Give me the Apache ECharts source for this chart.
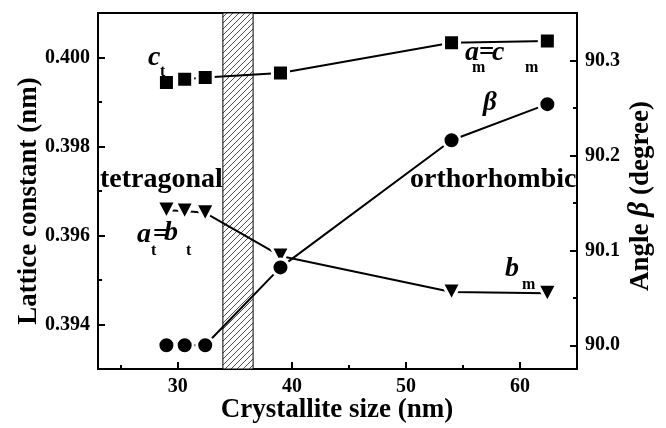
<!DOCTYPE html>
<html>
<head>
<meta charset="utf-8">
<script src="https://cdn.jsdelivr.net/npm/echarts@6/dist/echarts.min.js"></script>
<style>
  html, body { margin: 0; padding: 0; background: #fff; }
  #chart { width: 666px; height: 428px; }
</style>
</head>
<body>
<div id="chart"></div>
<script>
// Crystallite size (nm) of each sample
const sizes = [29.0, 30.6, 32.4, 39.0, 54.0, 62.4];
// Lattice constants (nm): c_t -> a_m = c_m
const latticeC = [0.39944, 0.39951, 0.39955, 0.39965, 0.40033, 0.40037];
// Lattice constants (nm): a_t = b_t -> b_m
const latticeB = [0.39657, 0.39655, 0.39651, 0.39554, 0.39473, 0.39470];
// Monoclinic angle beta (degree)
const angleBeta = [90.000, 90.000, 90.000, 90.082, 90.216, 90.254];
// Phase boundary band (nm)
const boundary = [33.95, 36.6];

// Tick values
const xMajor = [30, 40, 50, 60];
const xMinor = [25, 35, 45, 55];
const leftMajor = [0.394, 0.396, 0.398, 0.400];
const leftMinor = [0.395, 0.397, 0.399];
const rightMajor = [90.0, 90.1, 90.2, 90.3];
const rightMinor = [90.05, 90.15, 90.25];

const FONT = '"Liberation Serif", "Times New Roman", serif';

// diagonal hatch pattern for the transition band
function hatchCanvas() {
  const s = 6;
  const c = document.createElement('canvas');
  c.width = s; c.height = s;
  const g = c.getContext('2d');
  g.fillStyle = '#fff';
  g.fillRect(0, 0, s, s);
  g.strokeStyle = '#222';
  g.lineWidth = 0.8;
  g.beginPath();
  g.moveTo(0, s); g.lineTo(s, 0);
  g.moveTo(-1, 1); g.lineTo(1, -1);
  g.moveTo(s - 1, s + 1); g.lineTo(s + 1, s - 1);
  g.stroke();
  return c;
}

const chart = echarts.init(document.getElementById('chart'), null, { renderer: 'canvas' });

const tickLabel = { color: '#000', fontFamily: FONT, fontWeight: 'bold', fontSize: 20 };
const axisLineStyle = { show: true, lineStyle: { color: '#000', width: 2 } };

function zip(xs, ys) { return xs.map((x, i) => [x, ys[i]]); }

const markerStyle = { color: '#000', borderColor: '#fff', borderWidth: 3 };

const option = {
  animation: false,
  backgroundColor: '#fff',
  grid: {
    left: 98, right: 89, top: 13, bottom: 59,
    show: true, borderColor: '#000', borderWidth: 2, backgroundColor: 'transparent'
  },
  xAxis: [
    {
      type: 'value', position: 'bottom', min: 23, max: 65,
      axisLine: axisLineStyle,
      axisTick: { show: true, inside: true, length: 7, lineStyle: { color: '#000', width: 2 }, customValues: xMajor },
      axisLabel: Object.assign({ margin: 8, customValues: xMajor }, tickLabel),
      splitLine: { show: false }
    },
    {
      type: 'value', position: 'bottom', min: 23, max: 65,
      axisLine: { show: false },
      axisTick: { show: true, inside: true, length: 4, lineStyle: { color: '#000', width: 2 }, customValues: xMinor },
      axisLabel: { show: false },
      splitLine: { show: false }
    }
  ],
  yAxis: [
    {
      type: 'value', position: 'left', min: 0.393, max: 0.401,
      axisLine: axisLineStyle,
      axisTick: { show: true, inside: true, length: 7, lineStyle: { color: '#000', width: 2 }, customValues: leftMajor },
      axisLabel: Object.assign({ margin: 8, customValues: leftMajor, formatter: v => v.toFixed(3) }, tickLabel),
      splitLine: { show: false }
    },
    {
      type: 'value', position: 'left', min: 0.393, max: 0.401,
      axisLine: { show: false },
      axisTick: { show: true, inside: true, length: 4, lineStyle: { color: '#000', width: 2 }, customValues: leftMinor },
      axisLabel: { show: false },
      splitLine: { show: false }
    },
    {
      type: 'value', position: 'right', min: 89.975, max: 90.35,
      axisLine: axisLineStyle,
      axisTick: { show: true, inside: true, length: 7, lineStyle: { color: '#000', width: 2 }, customValues: rightMajor },
      axisLabel: Object.assign({ margin: 8, customValues: rightMajor, formatter: v => v.toFixed(1) }, tickLabel),
      splitLine: { show: false }
    },
    {
      type: 'value', position: 'right', min: 89.975, max: 90.35,
      axisLine: { show: false },
      axisTick: { show: true, inside: true, length: 4, lineStyle: { color: '#000', width: 2 }, customValues: rightMinor },
      axisLabel: { show: false },
      splitLine: { show: false }
    }
  ],
  series: [
    {
      name: 'band', type: 'line', data: [], xAxisIndex: 0, yAxisIndex: 0,
      markArea: {
        silent: true,
        itemStyle: { color: { image: hatchCanvas(), repeat: 'repeat' }, borderColor: '#000', borderWidth: 1 },
        data: [[{ xAxis: boundary[0] }, { xAxis: boundary[1] }]]
      },
      z: 1
    },
    {
      name: 'c', type: 'line', xAxisIndex: 0, yAxisIndex: 0,
      data: zip(sizes, latticeC),
      symbol: 'rect', symbolSize: 16,
      lineStyle: { color: '#000', width: 2 },
      itemStyle: markerStyle, z: 3
    },
    {
      name: 'b', type: 'line', xAxisIndex: 0, yAxisIndex: 0,
      data: zip(sizes, latticeB),
      symbol: 'triangle', symbolRotate: 180, symbolSize: [19, 18],
      lineStyle: { color: '#000', width: 2 },
      itemStyle: markerStyle, z: 3
    },
    {
      name: 'beta', type: 'line', xAxisIndex: 0, yAxisIndex: 2,
      data: zip(sizes, angleBeta),
      symbol: 'circle', symbolSize: 17,
      lineStyle: { color: '#000', width: 2 },
      itemStyle: markerStyle, z: 3
    }
  ],
  graphic: []
};

// Annotation and axis title text
function txt(x, y, text, size, italic) {
  return {
    type: 'text', x: x, y: y, z: 10,
    style: {
      text: text, fill: '#000', fontFamily: FONT, fontWeight: 'bold',
      fontStyle: italic ? 'italic' : 'normal', fontSize: size,
      textAlign: 'left', textVerticalAlign: 'middle'
    }
  };
}
function title(x, y, rich, text) {
  return {
    type: 'text', x: x, y: y, rotation: Math.PI / 2, z: 10,
    style: {
      text: text, fill: '#000', fontFamily: FONT, fontWeight: 'bold', fontSize: 27,
      align: 'center', verticalAlign: 'middle', rich: rich
    }
  };
}
option.graphic = [
  // axis titles
  {
    type: 'text', x: 337, y: 410, z: 10,
    style: { text: 'Crystallite size (nm)', fill: '#000', fontFamily: FONT, fontWeight: 'bold',
             fontSize: 27, align: 'center', verticalAlign: 'middle' }
  },
  title(29, 201, {}, 'Lattice constant (nm)'),
  title(641, 196, {
    b: { fontFamily: FONT, fontWeight: 'bold', fontStyle: 'italic', fontSize: 29, fill: '#000' }
  }, 'Angle {b|β} (degree)'),
  // curve labels
  txt(148, 58, 'c', 28, true), txt(160, 72, 't', 16, false),
  txt(465, 53, 'a', 28, true), txt(472, 68, 'm', 16, false),
  txt(479, 53, '=', 27, false),
  txt(492, 53, 'c', 28, true), txt(525, 68, 'm', 16, false),
  txt(483, 103, 'β', 27, true),
  txt(100, 180, 'tetragonal', 28, false),
  txt(410, 180, 'orthorhombic', 28, false),
  txt(137, 235, 'a', 28, true), txt(151, 251, 't', 16, false),
  txt(153, 235, '=', 27, false),
  txt(164, 233, 'b', 28, true), txt(186, 251, 't', 16, false),
  txt(505, 269, 'b', 28, true), txt(522, 285, 'm', 16, false)
];

chart.setOption(option);
</script>
</body>
</html>
